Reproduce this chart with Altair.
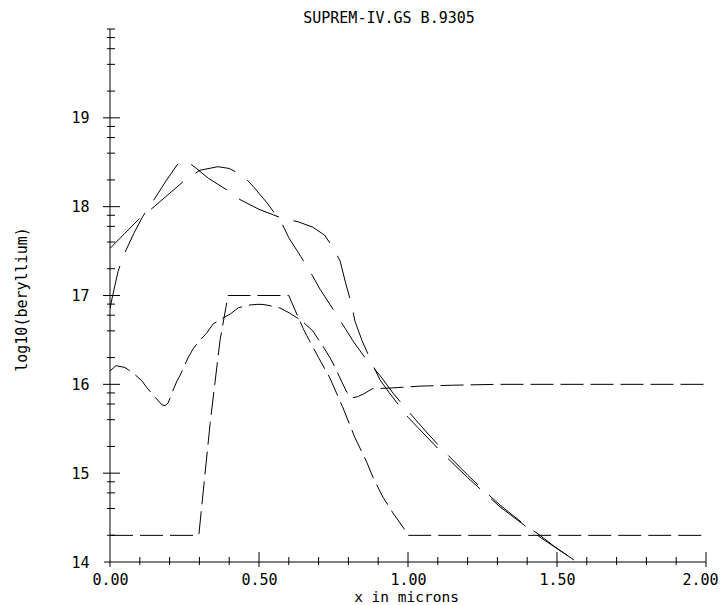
import math
import altair as alt
import pandas as pd

# ---------------- data ----------------
# curve A: smooth diffused profile (long dashes)
a_x = [0.0, 0.05, 0.097, 0.141, 0.2, 0.252, 0.302, 0.362, 0.40, 0.446, 0.48, 0.53, 0.577,
       0.60, 0.64, 0.68, 0.705, 0.738, 0.789, 0.815, 0.86, 0.906, 0.95, 1.0, 1.06, 1.117,
       1.2, 1.25, 1.309, 1.38, 1.443, 1.493, 1.567]
a_y = [17.53, 17.70, 17.86, 17.98, 18.15, 18.30, 18.41, 18.45, 18.43, 18.35, 18.23, 18.03, 17.81,
       17.65, 17.44, 17.22, 17.07, 16.90, 16.63, 16.49, 16.28, 16.10, 15.90, 15.70, 15.47, 15.26,
       14.98, 14.82, 14.64, 14.45, 14.30, 14.17, 14.00]

# curve B: peaked profile with shoulder (long dashes)
b_x = [0.0, 0.007, 0.027, 0.044, 0.08, 0.11, 0.144, 0.19, 0.225, 0.25, 0.275, 0.33, 0.396,
       0.436, 0.5, 0.577, 0.631, 0.68, 0.72, 0.748, 0.772, 0.79, 0.812, 0.822, 0.846, 0.879,
       0.906, 0.936, 1.0, 1.034, 1.117, 1.2, 1.309, 1.443, 1.567]
b_y = [16.85, 16.97, 17.27, 17.44, 17.70, 17.89, 18.06, 18.30, 18.47, 18.52, 18.47, 18.32, 18.18,
       18.08, 17.97, 17.87, 17.83, 17.77, 17.68, 17.54, 17.39, 17.15, 16.88, 16.71, 16.49, 16.24,
       16.05, 15.91, 15.63, 15.51, 15.22, 14.95, 14.62, 14.28, 14.00]

# curve C: lower profile with dip, ends on the 16 plateau (short dashes)
c_x = [0.0, 0.02, 0.05, 0.08, 0.107, 0.124, 0.15, 0.174, 0.185, 0.195, 0.21, 0.225, 0.235,
       0.262, 0.279, 0.30, 0.325, 0.346, 0.375, 0.403, 0.43, 0.46, 0.493, 0.51, 0.53, 0.57,
       0.604, 0.627, 0.655, 0.681, 0.698, 0.72, 0.738, 0.748, 0.765, 0.779, 0.795, 0.815,
       0.83, 0.85, 0.88, 0.95, 1.04, 1.15, 1.3, 2.0]
c_y = [16.15, 16.21, 16.19, 16.12, 16.04, 15.96, 15.86, 15.77, 15.76, 15.79, 15.92, 16.04, 16.10,
       16.30, 16.40, 16.49, 16.58, 16.68, 16.74, 16.79, 16.86, 16.89, 16.90, 16.90, 16.89, 16.86,
       16.80, 16.75, 16.68, 16.60, 16.51, 16.40, 16.30, 16.24, 16.12, 16.02, 15.91, 15.85,
       15.86, 15.89, 15.95, 15.96, 15.98, 15.99, 16.0, 16.0]

# curve D: box profile on 14.3 background (short dashes)
d_x = [0.0, 0.298, 0.31, 0.336, 0.369, 0.396, 0.60, 0.61, 0.648, 0.66, 0.70, 0.738, 0.78,
       0.822, 0.862, 0.883, 0.916, 0.95, 0.99, 1.0, 2.0]
d_y = [14.3, 14.3, 14.7, 15.56, 16.49, 17.0, 17.0, 16.92, 16.63, 16.55, 16.30, 16.07, 15.75,
       15.40, 15.12, 14.95, 14.73, 14.55, 14.36, 14.3, 14.3]

# axis ticks / labels
x_label_values = [0.0, 0.5, 1.0, 1.5, 2.0]
x_major_ticks = [0.5, 1.0, 1.5, 2.0]
x_minor_ticks = [0.1, 0.2, 0.3, 0.4, 0.6, 0.7, 0.8, 0.9, 1.1, 1.2, 1.3, 1.4, 1.6, 1.7, 1.8, 1.9]
y_label_values = [14, 15, 16, 17, 18, 19]
y_minor_ticks = [d + math.log10(m) for d in range(14, 20) for m in (2, 4, 6, 8)] + [20]

TITLE = "SUPREM-IV.GS B.9305"
X_TITLE = "x in microns"
Y_TITLE = "log10(beryllium)"

# ---------------- style ----------------
W, H = 596, 533
FONT = "DejaVu Sans Mono"
FS = 15
INK = "black"

xscale = alt.Scale(domain=[0, 2], nice=False, zero=False)
yscale = alt.Scale(domain=[14, 20], nice=False, zero=False)

xaxis = alt.Axis(values=x_label_values, format=".2f", domain=False, ticks=False, grid=False,
                 labelFont=FONT, labelFontSize=FS, labelColor=INK, labelPadding=22,
                 labelBaseline="alphabetic", labelFlush=False, labelOverlap=False,
                 labelOffset=alt.ExprRef(expr="datum.value == 2 ? -6 : 0"),
                 title=X_TITLE, titleFont=FONT, titleFontSize=14.5, titleFontWeight="normal",
                 titleColor=INK, titleX=296, titleY=39.5, titleAlign="center",
                 titleBaseline="alphabetic", titleAnchor="start")
yaxis = alt.Axis(values=y_label_values, format="d", domain=False, ticks=False, grid=False,
                 labelFont=FONT, labelFontSize=FS, labelColor=INK, labelPadding=21,
                 labelFlush=False, labelOverlap=False,
                 title=Y_TITLE, titleFont=FONT, titleFontSize=FS, titleFontWeight="normal",
                 titleColor=INK, titleX=-89, titleY=270, titleAngle=270, titleAlign="center",
                 titleBaseline="middle", titleAnchor="start")


def xenc(first=False):
    if first:
        return alt.X("x:Q", scale=xscale, axis=xaxis)
    return alt.X("x:Q", scale=xscale)


def yenc(first=False):
    if first:
        return alt.Y("y:Q", scale=yscale, axis=yaxis)
    return alt.Y("y:Q", scale=yscale)


def curve(xs, ys, dash, first=False):
    df = pd.DataFrame({"x": xs, "y": ys, "o": list(range(len(xs)))})
    return alt.Chart(df).mark_line(color=INK, strokeWidth=1, strokeDash=dash, clip=True).encode(
        x=xenc(first), y=yenc(first), order="o:Q")


lines = [
    curve(a_x, a_y, [42, 15], first=True),
    curve(b_x, b_y, [44, 15]),
    curve(c_x, c_y, [23, 7]),
    curve(d_x, d_y, [23, 7]),
]

# axis lines
y_axis_line = alt.Chart(pd.DataFrame({"y": [20]})).mark_rule(color=INK, strokeWidth=1).encode(
    x=alt.value(0), y=yenc(), y2=alt.value(H + 5))
x_axis_line = alt.Chart(pd.DataFrame({"x": [2.0]})).mark_rule(color=INK, strokeWidth=1).encode(
    x=xenc(), x2=alt.value(-6), y=alt.value(H))

# ticks
y_major = alt.Chart(pd.DataFrame({"y": y_label_values[1:]})).mark_rule(color=INK).encode(
    y=yenc(), x=alt.value(-7), x2=alt.value(10))
y_minor = alt.Chart(pd.DataFrame({"y": y_minor_ticks})).mark_rule(color=INK).encode(
    y=yenc(), x=alt.value(-3), x2=alt.value(5))
x_major = alt.Chart(pd.DataFrame({"x": x_major_ticks})).mark_rule(color=INK).encode(
    x=xenc(), y=alt.value(H - 10), y2=alt.value(H + 5))
x_minor = alt.Chart(pd.DataFrame({"x": x_minor_ticks})).mark_rule(color=INK).encode(
    x=xenc(), y=alt.value(H - 5), y2=alt.value(H + 3))

title = alt.Chart(pd.DataFrame({"t": [TITLE]})).mark_text(
    font=FONT, fontSize=FS, color=INK, align="center", baseline="alphabetic").encode(
    text="t:N", x=alt.value(279), y=alt.value(-6.5))

chart = alt.layer(*lines, y_axis_line, x_axis_line, y_major, y_minor, x_major, x_minor, title).properties(
    width=W, height=H,
    padding={"left": 102, "top": 21, "right": 14, "bottom": 43},
    autosize=alt.AutoSizeParams(type="none"),
    background="white",
).configure_view(stroke=None)

chart.save("out.html", embed_options={"renderer": "svg", "actions": False})
